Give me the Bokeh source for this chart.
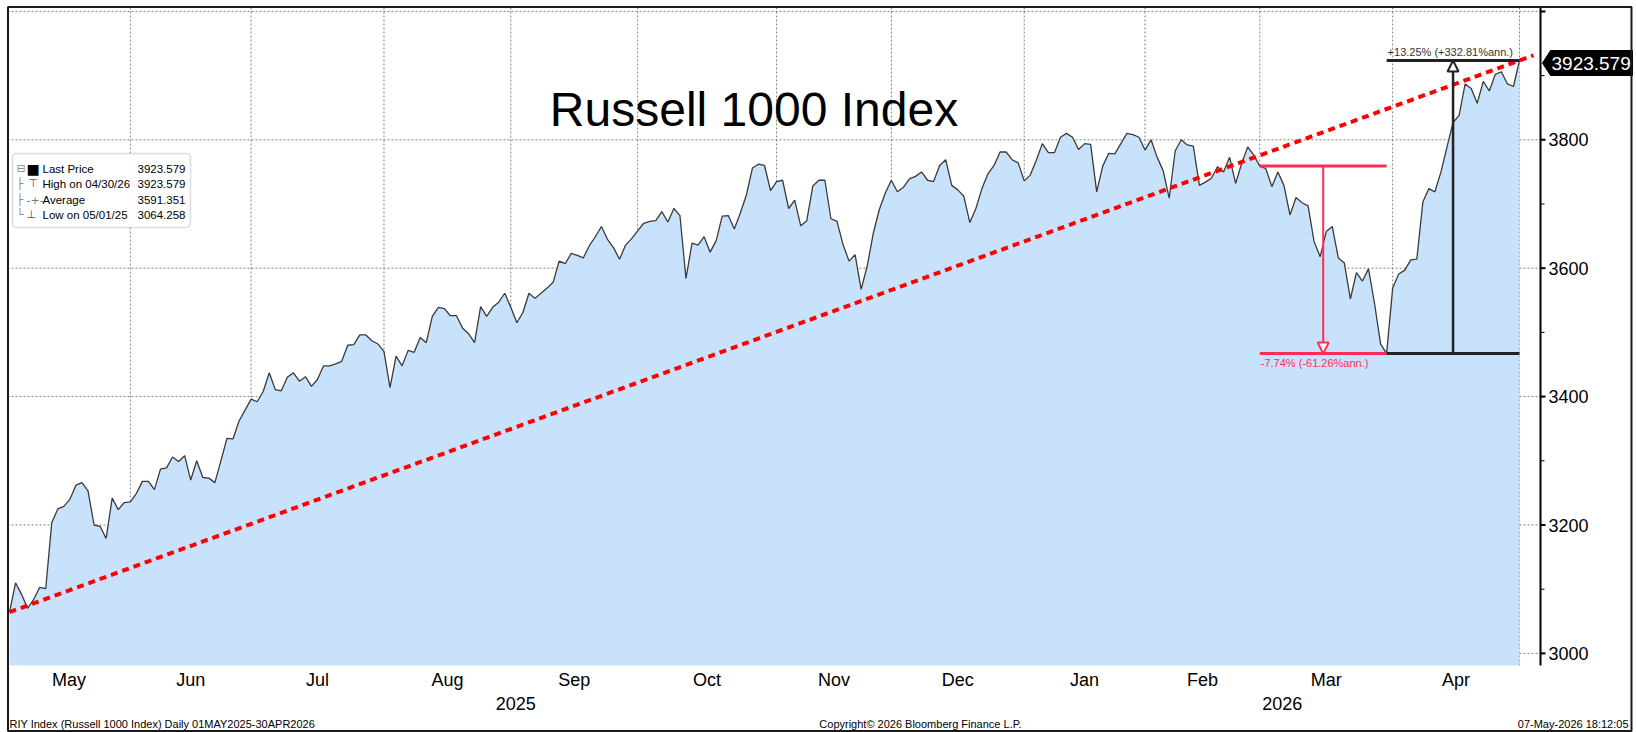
import numpy as np
import pandas as pd
from bokeh.plotting import figure
from bokeh.models import (Range1d, Label, BoxAnnotation, Arrow, NormalHead)
from bokeh.core.properties import value
from bokeh.embed import file_html
from bokeh.resources import INLINE

# ---------------- data ----------------
start_date = "2025-05-01"
end_date = "2026-04-30"
market_holidays = ["2025-05-26", "2025-06-19", "2025-07-04", "2025-09-01", "2025-11-27",
                   "2025-12-25", "2026-01-01", "2026-01-19", "2026-02-16", "2026-04-03"]

riy_close = [
    3064.26, 3110, 3092, 3070, 3084, 3103, 3101, 3204, 3225, 3229,
    3240, 3262, 3266, 3253, 3200, 3198, 3179, 3242, 3224, 3235,
    3236, 3249, 3268, 3268, 3255, 3287, 3289, 3306, 3299, 3308,
    3270, 3300, 3274, 3273, 3266, 3300, 3335, 3334, 3362, 3379,
    3396, 3392, 3408, 3437, 3411, 3409, 3430, 3437, 3424, 3431,
    3416, 3427, 3448, 3448, 3451, 3455, 3480, 3481, 3496, 3496,
    3487, 3482, 3470, 3414, 3463, 3448, 3472, 3469, 3492, 3484,
    3525, 3539, 3537, 3526, 3526, 3507, 3498, 3484, 3540, 3525,
    3539, 3547, 3561, 3539, 3515, 3531, 3561, 3553, 3561, 3569,
    3578, 3611, 3607, 3623, 3620, 3616, 3635, 3649, 3665, 3645,
    3632, 3614, 3636, 3646, 3658, 3670, 3673, 3674, 3688, 3672,
    3693, 3682, 3584, 3639, 3636, 3649, 3625, 3643, 3681, 3682,
    3661, 3686, 3714, 3756, 3762, 3760, 3721, 3735, 3737, 3693,
    3706, 3666, 3674, 3728, 3737, 3737, 3677, 3673, 3637, 3611,
    3621, 3567, 3603, 3654, 3691, 3717, 3737, 3719, 3726, 3739,
    3743, 3750, 3737, 3735, 3760, 3769, 3729, 3722, 3712, 3671,
    3693, 3724, 3747, 3760, 3781, 3781, 3769, 3764, 3736, 3745,
    3768, 3794, 3780, 3780, 3804, 3810, 3804, 3785, 3794, 3793,
    3719, 3759, 3779, 3778, 3794, 3810, 3808, 3804, 3784, 3800,
    3773, 3752, 3709, 3783, 3800, 3792, 3790, 3729, 3734, 3740,
    3758, 3750, 3773, 3732, 3763, 3789, 3776, 3759, 3755, 3727,
    3750, 3729, 3683, 3710, 3702, 3697, 3641, 3618, 3657, 3665,
    3616, 3608, 3552, 3593, 3580, 3599, 3545, 3482, 3467, 3569,
    3591, 3597, 3613, 3614, 3703, 3724, 3719, 3750, 3789, 3827,
    3838, 3887, 3880, 3857, 3891, 3876, 3902, 3906, 3887, 3883,
    3923.579,
]

month_names = ["May", "Jun", "Jul", "Aug", "Sep", "Oct", "Nov", "Dec", "Jan", "Feb", "Mar", "Apr"]
year_names = ["2025", "2026"]
y_ticks = [3000, 3200, 3400, 3600, 3800, 4000]
y_tick_labels = ["3000", "3200", "3400", "3600", "3800", ""]
y_minor_ticks = [3100, 3300, 3500, 3700, 3900]

legend_names = ["Last Price", "High on 04/30/26", "Average", "Low on 05/01/25"]
legend_values = ["3923.579", "3923.579", "3591.351", "3064.258"]

title_text = "Russell 1000 Index"
last_price_text = "3923.579"
drawdown_text = "-7.74% (-61.26%ann.)"
rally_text = "+13.25% (+332.81%ann.)"
drawdown_start_date = "2026-02-27"
drawdown_end_date = "2026-03-30"
footer_left = "RIY Index (Russell 1000 Index) Daily 01MAY2025-30APR2026"
footer_center = "Copyright\u00a9 2026 Bloomberg Finance L.P."
footer_right = "07-May-2026 18:12:05"

# ---------------- derived ----------------
days = pd.bdate_range(start_date, end_date)
days = days[~days.isin(pd.to_datetime(market_holidays))]
n = len(days)
idx = np.arange(n)
close = np.array(riy_close[:n], dtype=float)

months = days.to_period("M")
first_of_month = np.where(months[1:] != months[:-1])[0] + 1
grid_x = [float(v) for v in (first_of_month - 1)] + [float(n - 1)]

# ---------------- canvas geometry (pixels) ----------------
W, H = 1636, 732
X_PX0, X_PPU = 9.0, 6.04        # pixel of index 0, pixels per trading day
Y_PX3000, Y_PPU = 652.9, 0.642  # pixel of 3000, pixels per index point


def fx(px):
    return (px - X_PX0) / X_PPU


def fy(py):
    return 3000 + (Y_PX3000 - py) / Y_PPU


# plot area
PA_L, PA_R, PA_T, PA_B = fx(7), fx(1540), fy(7), fy(665)

bounds = [PA_L] + grid_x
month_pos = [(bounds[k] + bounds[k + 1]) / 2 for k in range(len(month_names))]
year_split = grid_x[7]
year_pos = [(PA_L + year_split) / 2, (year_split + PA_R) / 2]

FONT = "Liberation Sans"
BLUE_FILL = "#C9E2FC"
RED = "#FF2D55"
DARK = "#222222"

p = figure(width=W, height=H, x_range=Range1d(fx(0), fx(W)), y_range=Range1d(fy(H), fy(0)),
           x_axis_location=None, y_axis_location=None, output_backend="svg",
           toolbar_location=None, min_border=0)
p.outline_line_color = None
p.background_fill_color = "white"
p.border_fill_color = "white"
p.xgrid.visible = False
p.ygrid.visible = False

# grid lines (dotted)
p.segment(x0=grid_x, y0=[PA_B] * len(grid_x), x1=grid_x, y1=[PA_T] * len(grid_x),
          line_color="#7f7f7f", line_width=1, line_dash="2 2")
p.segment(x0=[PA_L] * len(y_ticks), y0=y_ticks, x1=[PA_R] * len(y_ticks), y1=y_ticks,
          line_color="#7f7f7f", line_width=1, line_dash="2 2")

# area + line
p.varea(x=idx, y1=PA_B, y2=close, fill_color=BLUE_FILL)
p.line(idx, close, line_color="#3a3a3a", line_width=1.3)

# trend line from first to last close, extended slightly
slope = (close[-1] - close[0]) / (n - 1)
t_end = fx(1533)
p.line([0, t_end], [close[0], close[0] + slope * t_end], line_color="#FF0000",
       line_width=4, line_dash="7 5")

# drawdown / rally annotations
i_peak = int(days.get_loc(pd.Timestamp(drawdown_start_date)))
i_trough = int(days.get_loc(pd.Timestamp(drawdown_end_date)))
i_last = n - 1
v_peak, v_trough, v_last = close[i_peak], close[i_trough], close[i_last]

p.segment(x0=[i_peak, i_peak], y0=[v_peak, v_trough], x1=[i_trough, i_trough],
          y1=[v_peak, v_trough], line_color=RED, line_width=3)
p.segment(x0=[i_trough, i_trough], y0=[v_trough, v_last], x1=[i_last, i_last],
          y1=[v_trough, v_last], line_color=DARK, line_width=3)
xm_dd = (i_peak + i_trough) / 2
xm_up = (i_trough + i_last) / 2
p.add_layout(Arrow(end=NormalHead(size=11, fill_color="white", line_color=RED, line_width=2),
                   x_start=xm_dd, y_start=v_peak, x_end=xm_dd, y_end=v_trough,
                   line_color=RED, line_width=2))
p.add_layout(Arrow(end=NormalHead(size=11, fill_color="white", line_color=DARK, line_width=2),
                   x_start=xm_up, y_start=v_trough, x_end=xm_up, y_end=v_last,
                   line_color=DARK, line_width=2.5))
p.add_layout(Label(x=i_peak, y=v_trough, x_offset=1, y_offset=-3, text=drawdown_text,
                   text_color=RED, text_font=FONT, text_font_size="11px",
                   text_baseline="top", text_align="left"))
p.add_layout(Label(x=i_trough, y=v_last, x_offset=1, y_offset=2, text=rally_text,
                   text_color="#333333", text_font=FONT, text_font_size="11px",
                   text_baseline="bottom", text_align="left"))

# right value axis
p.segment(x0=[PA_R], y0=[PA_B], x1=[PA_R], y1=[PA_T], line_color="black", line_width=2)
tick_len, minor_len = 5 / X_PPU, 4 / X_PPU
p.segment(x0=[PA_R] * len(y_ticks), y0=y_ticks, x1=[PA_R + tick_len] * len(y_ticks),
          y1=y_ticks, line_color="black", line_width=2)
p.segment(x0=[PA_R] * len(y_minor_ticks), y0=y_minor_ticks,
          x1=[PA_R + minor_len] * len(y_minor_ticks), y1=y_minor_ticks,
          line_color="black", line_width=1)
p.text(x=[fx(1548)] * len(y_ticks), y=y_ticks, text=y_tick_labels,
       text_font=value(FONT), text_font_size="18px", text_color="black",
       text_baseline="middle", text_align="left")

# time axis labels
p.text(x=month_pos, y=[fy(679)] * len(month_pos), text=month_names,
       text_font=value(FONT), text_font_size="18px", text_color="black",
       text_baseline="middle", text_align="center")
p.text(x=year_pos, y=[fy(703)] * len(year_pos), text=year_names,
       text_font=value(FONT), text_font_size="18px", text_color="black",
       text_baseline="middle", text_align="center")

# title
p.add_layout(Label(x=fx(753.5), y=fy(109), text=title_text, text_font=FONT,
                   text_font_size="48px", text_color="black", text_align="center",
                   text_baseline="middle"))

# legend box
p.add_layout(BoxAnnotation(left=fx(12), right=fx(190), top=fy(153), bottom=fy(227),
                           fill_color="white", fill_alpha=1.0, line_color="#8c8c8c",
                           line_width=1.5, border_radius=4))
row_y = [168, 183, 199, 214]
tree_chars = ["\u229f", "\u251c", "\u251c", "\u2514"]
sym_chars = ["\u25a0", "\u22a4", "-+-", "\u22a5"]
sym_colors = ["black", "#555555", "#777777", "#555555"]
for k in range(4):
    p.add_layout(Label(x=fx(16), y=fy(row_y[k]), text=tree_chars[k], text_color="#8a8a8a",
                       text_font="DejaVu Sans", text_font_size="11px", text_baseline="middle"))
    p.add_layout(Label(x=fx(26) if k != 1 else fx(28), y=fy(row_y[k]), text=sym_chars[k],
                       text_color=sym_colors[k], text_font="DejaVu Sans",
                       text_font_size="11px" if k else "14px", text_baseline="middle"))
    p.add_layout(Label(x=fx(42), y=fy(row_y[k]), text=legend_names[k], text_color="black",
                       text_font=FONT, text_font_size="11.5px", text_baseline="middle"))
    p.add_layout(Label(x=fx(185), y=fy(row_y[k]), text=legend_values[k], text_color="black",
                       text_font=FONT, text_font_size="11.5px", text_baseline="middle",
                       text_align="right"))

# last price tag
p.patch(x=[fx(1542), fx(1550), fx(1632), fx(1632), fx(1550)],
        y=[fy(62.5), fy(50), fy(50), fy(75), fy(75)], fill_color="black", line_color="black")
p.add_layout(Label(x=fx(1551), y=fy(63), text=last_price_text, text_color="white",
                   text_font=FONT, text_font_size="19px", text_baseline="middle"))

# outer frame
p.quad(left=fx(7.5), right=fx(1631), top=fy(6.5), bottom=fy(730.5), fill_color=None,
       line_color="#1a1a1a", line_width=2)

# footer
p.add_layout(Label(x=fx(9), y=fy(723), text=footer_left, text_font=FONT,
                   text_font_size="11px", text_color="black", text_baseline="middle"))
p.add_layout(Label(x=fx(920), y=fy(723), text=footer_center, text_font=FONT,
                   text_font_size="11px", text_color="black", text_baseline="middle",
                   text_align="center"))
p.add_layout(Label(x=fx(1628), y=fy(723), text=footer_right, text_font=FONT,
                   text_font_size="11px", text_color="black", text_baseline="middle",
                   text_align="right"))

open("out.html", "w").write(file_html(p, INLINE))
